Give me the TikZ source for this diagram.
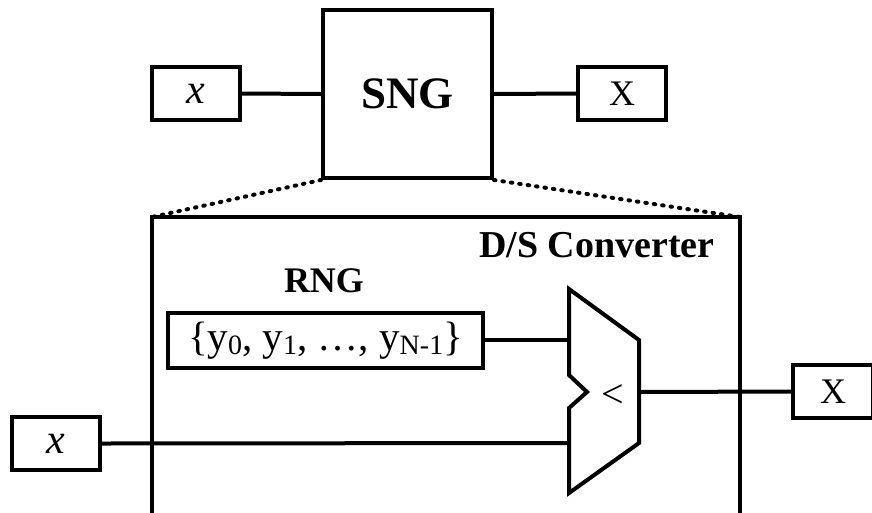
\documentclass[tikz,border=0pt]{standalone}
\usepackage{fontspec}
\setmainfont{Liberation Serif}
\begin{document}
\begin{tikzpicture}[x=1pt,y=-1pt,
  wire/.style={line width=4pt},
  blockbox/.style={draw,line width=4pt,inner sep=0pt,font=\fontsize{36}{42}\selectfont},
  dotline/.style={line width=4pt,line cap=round,dash pattern=on 1.5pt off 7pt}]
\useasboundingbox (0,0) rectangle (872,512);

% top row: input, SNG block, output
\node[blockbox,minimum width=88pt,minimum height=53pt,font=\fontsize{42}{48}\selectfont\itshape] (xin) at (196,93.5) {x};
\node[blockbox,minimum width=169pt,minimum height=168pt,font=\fontsize{45}{54}\selectfont\bfseries] (sng) at (407.5,94) {SNG};
\node[blockbox,minimum width=88pt,minimum height=53pt] (xout) at (622,93.5) {X};
\draw[wire] (xin.east) -- (sng.west);
\draw[wire] (sng.east) -- (xout.west);

% converter frame (runs off the bottom edge)
\coordinate (fl) at (152,217);
\coordinate (fr) at (740,217);
\draw[line width=4pt] (152,514) -- (fl) -- (fr) -- (740,514);
\draw[dotline] (sng.south west) -- (fl);
\draw[dotline] (sng.south east) -- (fr);

\node[anchor=base east,font=\fontsize{38}{44}\selectfont\bfseries] (dsc) at (718,257) {D/S Converter};
\node[anchor=base,font=\fontsize{36}{42}\selectfont\bfseries] (rnglbl) at (324,292) {RNG};

% random number sequence
\node[blockbox,minimum width=315pt,minimum height=55pt,font=\fontsize{41}{47}\selectfont] (rng) at (325.5,340.5)
  {\{y\raisebox{-0.1em}{\fontsize{28}{32}\selectfont 0}, y\raisebox{-0.1em}{\fontsize{28}{32}\selectfont 1}, \ldots, y\raisebox{-0.1em}{\fontsize{28}{32}\selectfont N-1}\}};

% comparator
\draw[line width=4pt,line join=miter] (569,289) -- (639,340) -- (639,443) -- (569,493) -- (569,408) -- (587,392) -- (569,375) -- cycle;
\coordinate (cmpa) at (569,340);
\coordinate (cmpb) at (569,443);
\coordinate (cmpo) at (639,392);
\node[font=\fontsize{40}{46}\selectfont] (lt) at (613,396) {<};

% lower input and output
\node[blockbox,minimum width=88pt,minimum height=53pt,font=\fontsize{42}{48}\selectfont\itshape] (xin2) at (56,443.5) {x};
\node[blockbox,minimum width=80pt,minimum height=53pt] (xout2) at (833,391.5) {X};

\draw[wire] (rng.east |- cmpa) -- (cmpa);
\draw[wire] (xin2.east) -- (cmpb);
\draw[wire] (cmpo) -- (xout2.west);
\end{tikzpicture}
\end{document}
